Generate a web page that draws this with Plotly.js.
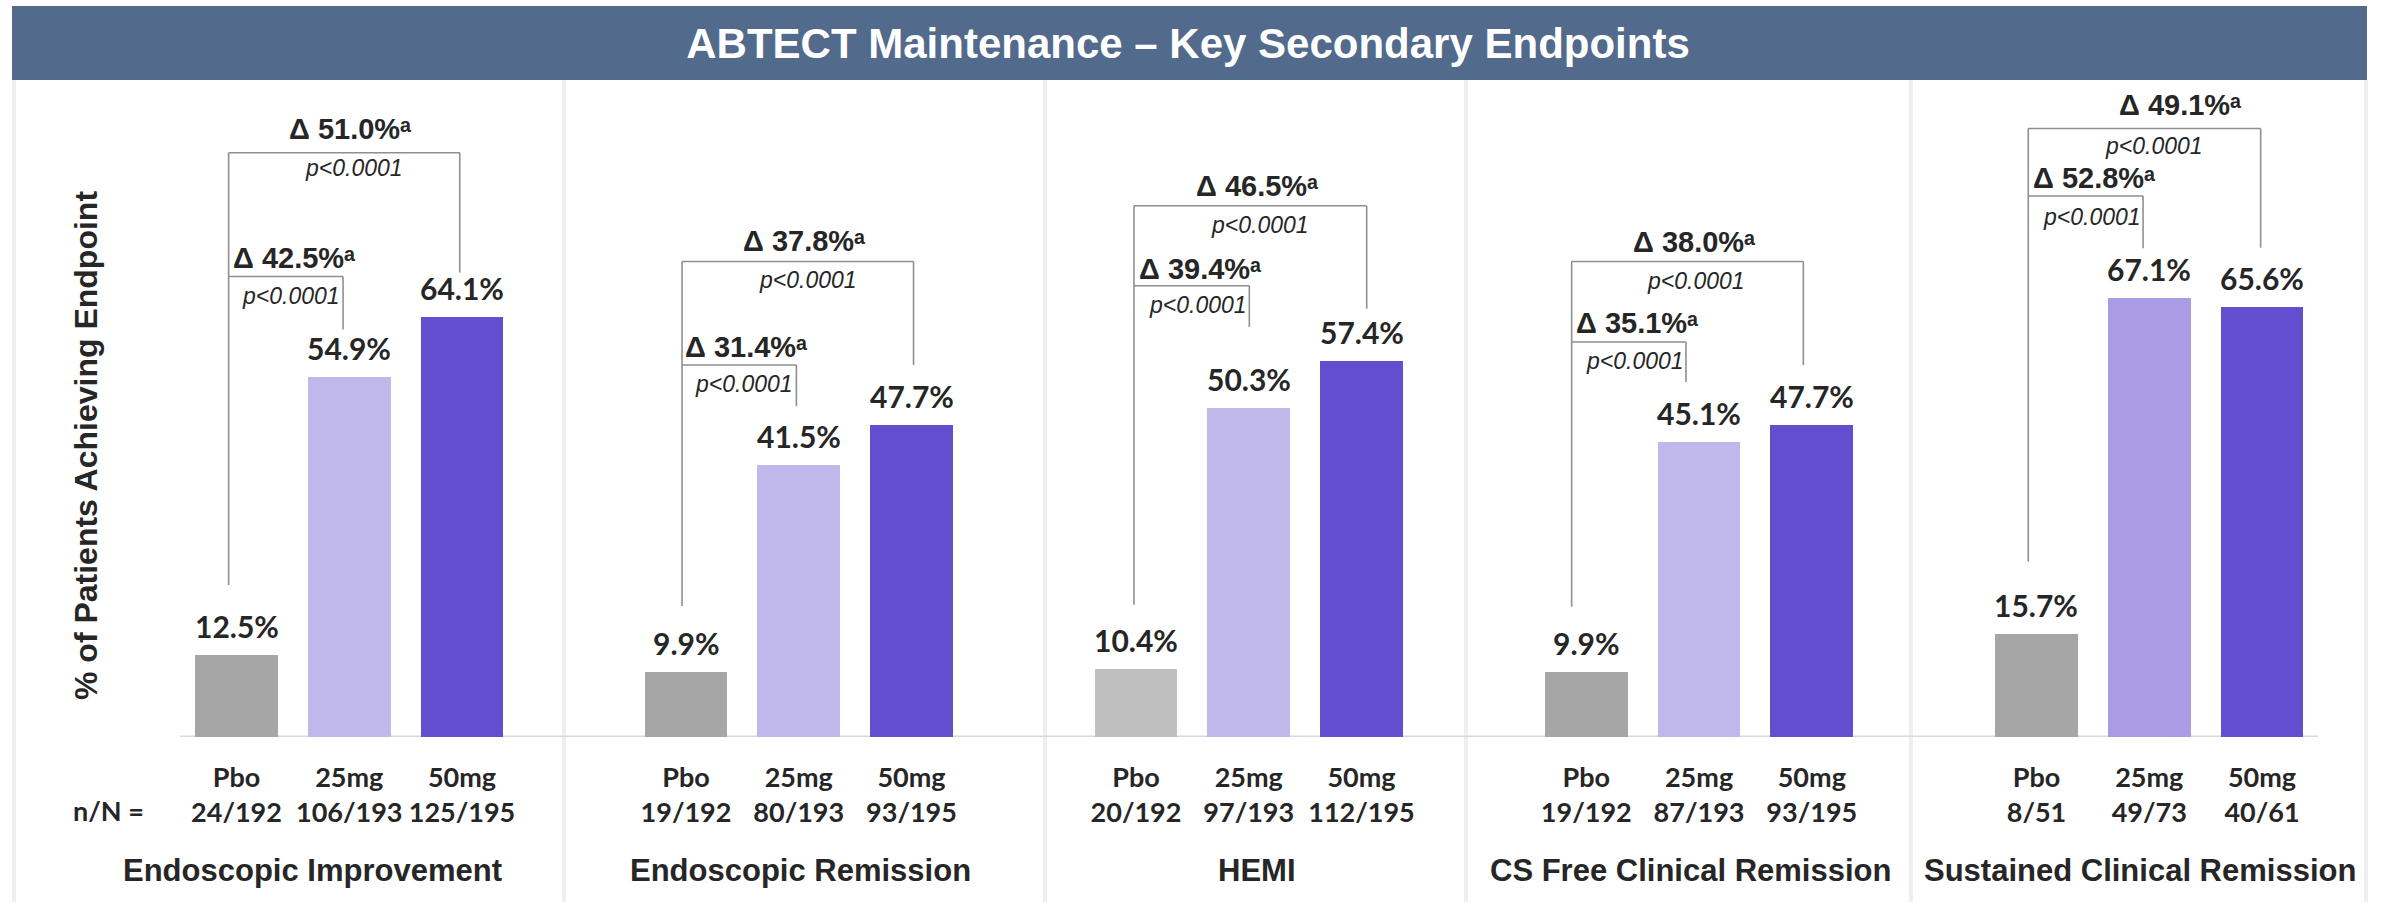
<!DOCTYPE html>
<html>
<head>
<meta charset="utf-8">
<script src="https://cdn.plot.ly/plotly-3.0.1.min.js"></script>
<style>html,body{margin:0;padding:0;background:#fff;}#chart{width:2384px;height:902px;}</style>
</head>
<body>
<div id="chart"></div>
<script>
// ---------------- DATA ----------------
const chartTitle = 'ABTECT Maintenance – Key Secondary Endpoints';
const yTitle = '% of Patients Achieving Endpoint';
const endpoints = ['Endoscopic Improvement', 'Endoscopic Remission', 'HEMI', 'CS Free Clinical Remission', 'Sustained Clinical Remission'];
const arms = ['Pbo', '25mg', '50mg'];
const pbo    = [12.5, 9.9, 10.4, 9.9, 15.7];
const dose25 = [54.9, 41.5, 50.3, 45.1, 67.1];
const dose50 = [64.1, 47.7, 57.4, 47.7, 65.6];
const nPbo = ['24/192', '19/192', '20/192', '19/192', '8/51'];
const n25  = ['106/193', '80/193', '97/193', '87/193', '49/73'];
const n50  = ['125/195', '93/195', '112/195', '93/195', '40/61'];
const delta25 = [42.5, 31.4, 39.4, 35.1, 52.8];
const delta50 = [51.0, 37.8, 46.5, 38.0, 49.1];
const pValue25 = ['p<0.0001', 'p<0.0001', 'p<0.0001', 'p<0.0001', 'p<0.0001'];
const pValue50 = ['p<0.0001', 'p<0.0001', 'p<0.0001', 'p<0.0001', 'p<0.0001'];
const nLabel = 'n/N =';

// ---------------- LAYOUT / STYLE ----------------
const W = 2384, H = 902;
const px = v => v / W;
const py = v => 1 - v / H;
const panelDomainPx = [[14, 564], [564, 1045], [1045, 1466], [1466, 1911], [1911, 2366]];
const pboCenterPx = [236.5, 686, 1136, 1586.3, 2036.5];
const unitPx = 112.75;
const titleCenterPx = [312, 800, 1257, 1690, 2140];
const pboColors = ['#a6a6a6', '#a6a6a6', '#bfbfbf', '#a6a6a6', '#a6a6a6'];
const d25Colors = ['#c0b7ea', '#c0b7ea', '#c0b7ea', '#c0b7ea', '#a99ce4'];
const d50Colors = ['#624ecf', '#624ecf', '#624ecf', '#624ecf', '#624ecf'];
// bracket geometry (x offsets in category units, y in axis units)
const bracketGeom = [
  {xL:-0.07,  xI:0.945, xO:1.98,  yO:89.2, yOE:70.9, yI:70.3, yIE:62.2, yLB:23.2, dOx:1.007, dOy:92.9, pOx:1.042, pOy:86.8, dIx:0.51,  dIy:73.1, pIx:0.483, pIy:67.3},
  {xL:-0.035, xI:0.979, xO:2.018, yO:72.6, yOE:56.8, yI:56.8, yIE:50.5, yLB:20.0, dOx:1.047, dOy:75.7, pOx:1.082, pOy:69.8, dIx:0.532, dIy:59.6, pIx:0.514, pIy:53.9},
  {xL:-0.018, xI:1.005, xO:2.046, yO:81.1, yOE:65.4, yI:68.9, yIE:62.6, yLB:20.2, dOx:1.073, dOy:84.1, pOx:1.1,   pOy:78.2, dIx:0.568, dIy:71.5, pIx:0.55,  pIy:66.0},
  {xL:-0.13,  xI:0.884, xO:1.925, yO:72.6, yOE:56.8, yI:60.3, yIE:54.2, yLB:19.9, dOx:0.955, dOy:75.6, pOx:0.973, pOy:69.6, dIx:0.45,  dIy:63.2, pIx:0.432, pIy:57.4},
  {xL:-0.073, xI:0.945, xO:1.988, yO:92.9, yOE:74.7, yI:82.6, yIE:74.6, yLB:26.8, dOx:1.269, dOy:96.5, pOx:1.038, pOy:90.2, dIx:0.51,  dIy:85.3, pIx:0.492, pIy:79.4}
];
const textDark = '#262626';
const arialFam = 'Liberation Sans, Arial, DejaVu Sans, sans-serif';
const calFam = 'Lato, Carlito, Calibri, sans-serif';
const bracketLine = {color: '#8f8f8f', width: 1.6};

const traces = [];
const annotations = [];
const shapes = [];
const layout = {
  width: W, height: H,
  margin: {l: 0, r: 0, t: 0, b: 0},
  paper_bgcolor: '#ffffff', plot_bgcolor: 'rgba(0,0,0,0)',
  showlegend: false,
  title: {
    text: chartTitle, xref: 'container', yref: 'container',
    x: 1188 / W, y: py(43), xanchor: 'center', yanchor: 'middle',
    font: {family: arialFam, size: 42, color: '#ffffff', weight: 'bold'}
  },
  yaxis: {domain: [py(737), py(82)], range: [0, 100], visible: false, fixedrange: true},
  bargap: 0
};

// banner and frame
shapes.push({type: 'rect', xref: 'paper', yref: 'paper', x0: px(12), x1: px(2367), y0: py(80), y1: py(6),
  fillcolor: '#526a8b', line: {width: 0}, layer: 'below'});
[14, 564, 1045, 1466, 1911, 2366].forEach(xv => {
  shapes.push({type: 'line', xref: 'paper', yref: 'paper', x0: px(xv), x1: px(xv), y0: 0, y1: py(80),
    line: {color: '#efefef', width: 4}, layer: 'below'});
});
shapes.push({type: 'line', xref: 'paper', yref: 'y', x0: px(180), x1: px(2318), y0: 0, y1: 0,
  line: {color: '#d9d9d9', width: 3}, layer: 'below'});

endpoints.forEach((ep, i) => {
  const axName = i === 0 ? 'xaxis' : 'xaxis' + (i + 1);
  const xref = i === 0 ? 'x' : 'x' + (i + 1);
  const [d0, d1] = panelDomainPx[i];
  const c = pboCenterPx[i];
  const vals = [pbo[i], dose25[i], dose50[i]];
  const nn = [nPbo[i], n25[i], n50[i]];
  layout[axName] = {
    type: 'category', domain: [px(d0), px(d1)],
    range: [(d0 - c) / unitPx, (d1 - c) / unitPx],
    categoryorder: 'array', categoryarray: arms,
    tickmode: 'array', tickvals: arms,
    ticktext: arms.map((a, j) => a + '<br>' + nn[j]),
    ticks: '', showgrid: false, zeroline: false, showline: false, fixedrange: true,
    anchor: 'y', ticklabelstandoff: 22,
    tickfont: {family: calFam, size: 27, color: textDark, weight: 'bold'}
  };
  traces.push({
    type: 'bar', x: arms, y: vals, xaxis: xref, yaxis: 'y', width: 0.735,
    marker: {color: [pboColors[i], d25Colors[i], d50Colors[i]], line: {width: 0}},
    hoverinfo: 'skip'
  });
  // value labels
  vals.forEach((v, j) => {
    annotations.push({xref: xref, yref: 'y', x: j, y: v, yshift: 29, yanchor: 'middle', xanchor: 'center',
      text: v.toFixed(1) + '%', showarrow: false,
      font: {family: calFam, size: 30, color: textDark, weight: 'bold'}});
  });
  // endpoint title
  annotations.push({xref: 'paper', yref: 'paper', x: px(titleCenterPx[i]), y: py(870), xanchor: 'center', yanchor: 'middle',
    text: ep, showarrow: false, font: {family: arialFam, size: 31, color: textDark, weight: 'bold'}});
  // brackets
  const g = bracketGeom[i];
  const ln = (x0, y0, x1, y1) => shapes.push({type: 'line', xref: xref, yref: 'y', x0: x0, y0: y0, x1: x1, y1: y1, line: bracketLine});
  ln(g.xL, g.yLB, g.xL, g.yO);
  ln(g.xL, g.yO, g.xO, g.yO);
  ln(g.xO, g.yO, g.xO, g.yOE);
  ln(g.xL, g.yI, g.xI, g.yI);
  ln(g.xI, g.yI, g.xI, g.yIE);
  const dText = d => 'Δ ' + d.toFixed(1) + '%ᵃ';
  const dFont = {family: arialFam, size: 29, color: textDark, weight: 'bold'};
  const pFont = {family: arialFam, size: 23, color: textDark, style: 'italic'};
  annotations.push({xref: xref, yref: 'y', x: g.dOx, y: g.dOy, xanchor: 'center', yanchor: 'middle', showarrow: false,
    text: dText(delta50[i]), font: dFont});
  annotations.push({xref: xref, yref: 'y', x: g.dIx, y: g.dIy, xanchor: 'center', yanchor: 'middle', showarrow: false,
    text: dText(delta25[i]), font: dFont});
  annotations.push({xref: xref, yref: 'y', x: g.pOx, y: g.pOy, xanchor: 'center', yanchor: 'middle', showarrow: false,
    text: pValue50[i].replace('<', '&lt;'), font: pFont});
  annotations.push({xref: xref, yref: 'y', x: g.pIx, y: g.pIy, xanchor: 'center', yanchor: 'middle', showarrow: false,
    text: pValue25[i].replace('<', '&lt;'), font: pFont});
});

// y-axis title and n/N label
annotations.push({xref: 'paper', yref: 'paper', x: px(86), y: py(446), xanchor: 'center', yanchor: 'middle',
  textangle: -90, text: yTitle, showarrow: false, font: {family: arialFam, size: 32, color: textDark, weight: 'bold'}});
annotations.push({xref: 'paper', yref: 'paper', x: px(108), y: py(810), xanchor: 'center', yanchor: 'middle',
  text: nLabel, showarrow: false, font: {family: calFam, size: 27, color: textDark, weight: 'bold'}});

layout.annotations = annotations;
layout.shapes = shapes;

Plotly.newPlot('chart', traces, layout, {staticPlot: true, displayModeBar: false});
</script>
</body>
</html>
